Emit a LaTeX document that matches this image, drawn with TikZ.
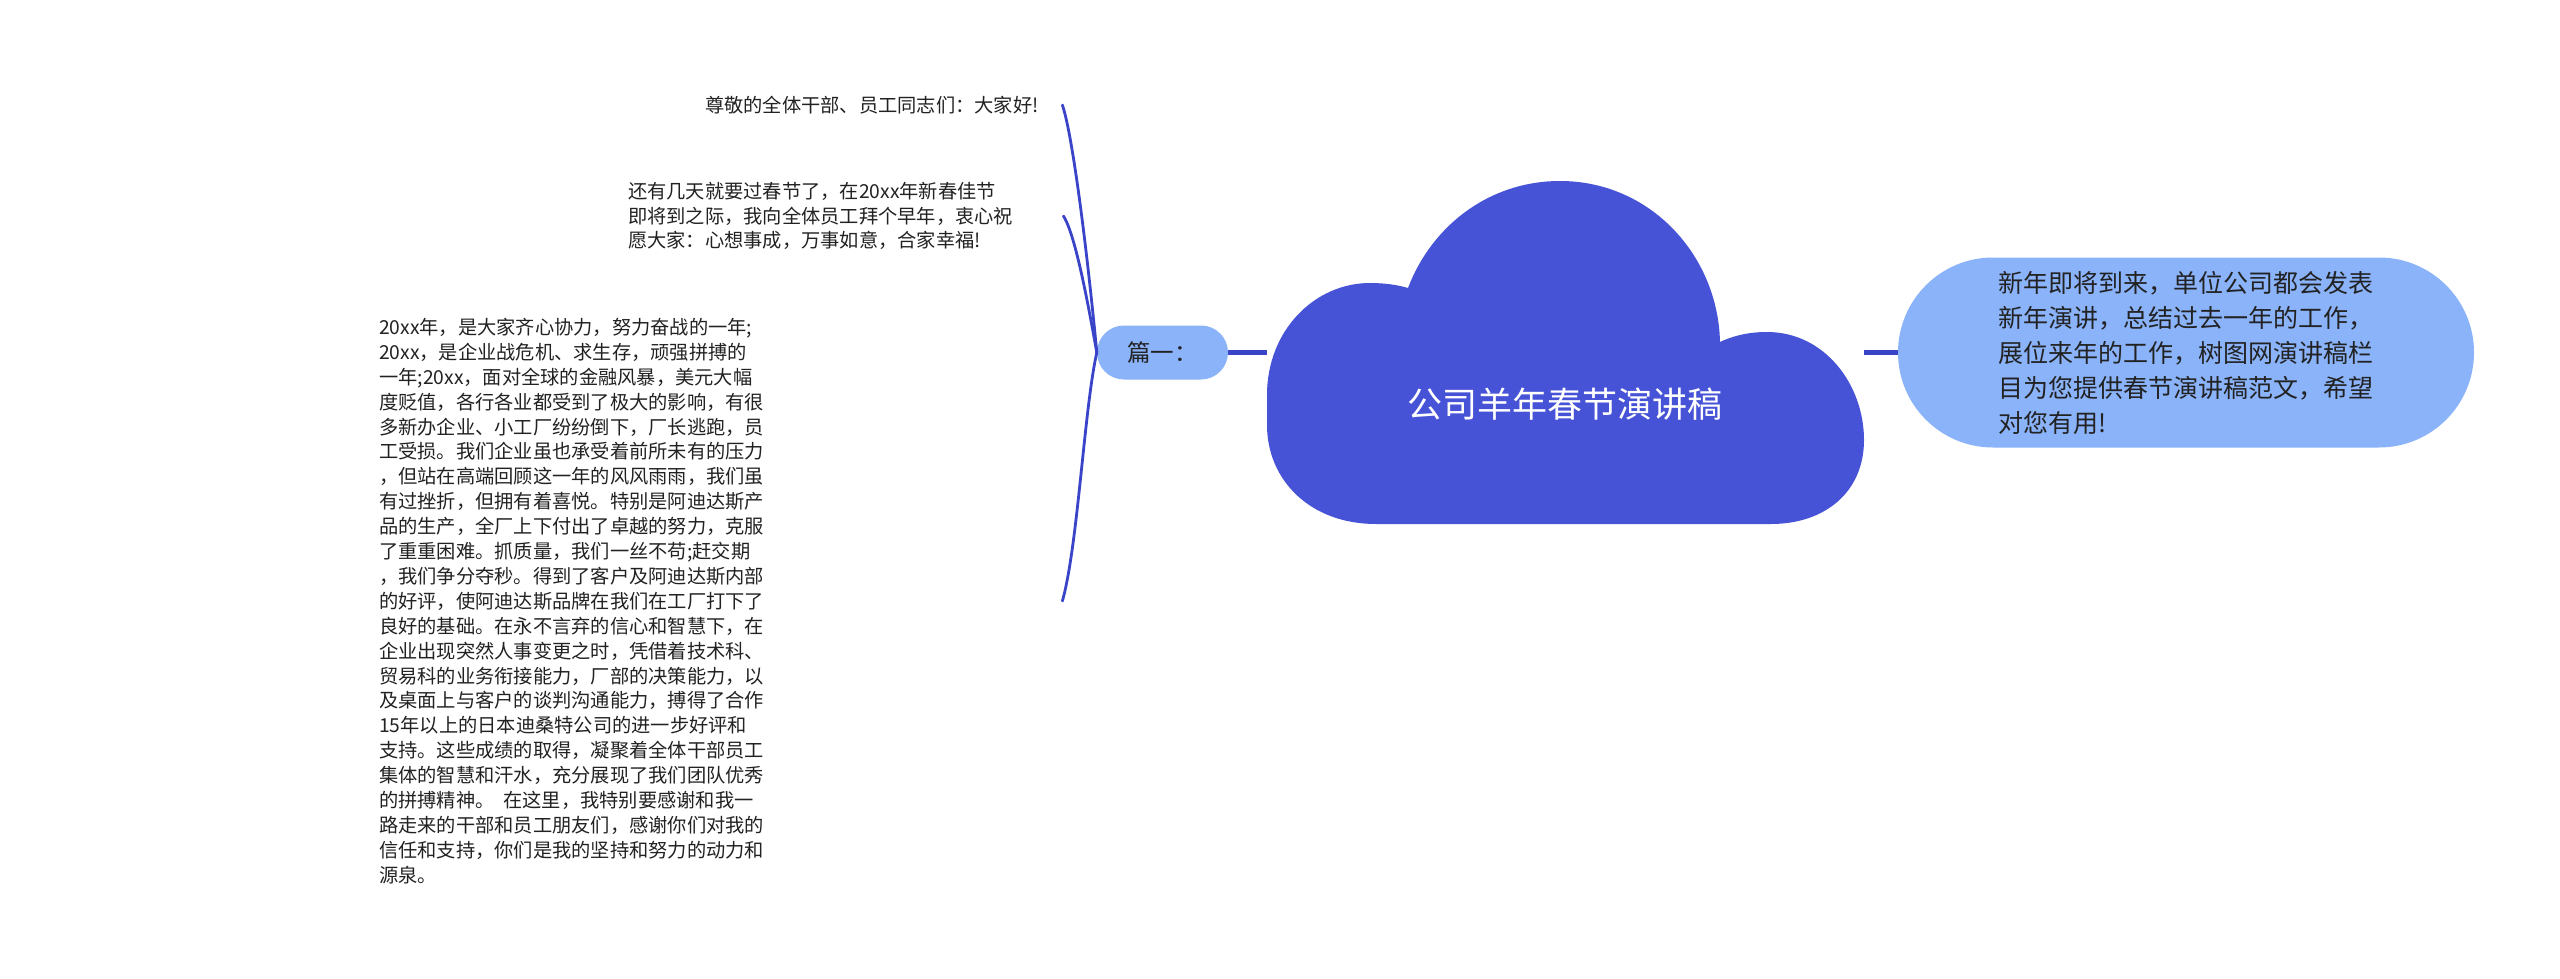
\documentclass[tikz,border=0pt]{standalone}
\usepackage{fontspec}
\setmainfont{Noto Sans CJK SC}
\definecolor{cloudc}{HTML}{4753D6}
\definecolor{boxc}{HTML}{8AB3FA}
\definecolor{linec}{HTML}{3A44C9}
\definecolor{txt}{HTML}{222222}
\begin{document}
\begin{tikzpicture}[x=1pt,y=-1pt,
  small/.style={font=\fontsize{19.25}{24.9}\selectfont, inner sep=0pt, text=txt, align=left, anchor=west},
  pill/.style={fill=boxc, text=txt},
  curve/.style={draw=linec, line width=2.8pt, line cap=round},
  bar/.style={draw=linec, line width=5pt}]
\useasboundingbox (0,0) rectangle (2560,979);
\fill[white] (0,0) rectangle (2560,979);

% nodes
\node[minimum width=597pt, minimum height=343pt, inner sep=0pt] (root) at (1565.5,352.5) {};
\node[pill, minimum width=131pt, minimum height=54pt, rounded corners=27pt, inner sep=0pt,
      font=\fontsize{23.5}{28}\selectfont] (p) at (1162.5,352.5) {篇一：};
\node[pill, rounded corners=95pt, minimum height=190pt, text width=376pt, inner xsep=100pt,
      inner ysep=0pt, font=\fontsize{25}{35}\selectfont, align=left] (r) at (2186,352.5)
  {新年即将到来，单位公司都会发表\\新年演讲，总结过去一年的工作，\\展位来年的工作，树图网演讲稿栏\\目为您提供春节演讲稿范文，希望\\对您有用!};
\node[small, text width=357pt] (t1) at (705,105) {尊敬的全体干部、员工同志们：大家好!};
\node[small, text width=435pt] (t2) at (628,216)
  {还有几天就要过春节了，在20xx年新春佳节\\即将到之际，我向全体员工拜个早年，衷心祝\\愿大家：心想事成，万事如意，合家幸福!};
\node[small, text width=683pt] (t3) at (379,601)
  {20xx年，是大家齐心协力，努力奋战的一年;\\
   20xx，是企业战危机、求生存，顽强拼搏的\\
   一年;20xx，面对全球的金融风暴，美元大幅\\
   度贬值，各行各业都受到了极大的影响，有很\\
   多新办企业、小工厂纷纷倒下，厂长逃跑，员\\
   工受损。我们企业虽也承受着前所未有的压力\\
   ，但站在高端回顾这一年的风风雨雨，我们虽\\
   有过挫折，但拥有着喜悦。特别是阿迪达斯产\\
   品的生产，全厂上下付出了卓越的努力，克服\\
   了重重困难。抓质量，我们一丝不苟;赶交期\\
   ，我们争分夺秒。得到了客户及阿迪达斯内部\\
   的好评，使阿迪达斯品牌在我们在工厂打下了\\
   良好的基础。在永不言弃的信心和智慧下，在\\
   企业出现突然人事变更之时，凭借着技术科、\\
   贸易科的业务衔接能力，厂部的决策能力，以\\
   及桌面上与客户的谈判沟通能力，搏得了合作\\
   15年以上的日本迪桑特公司的进一步好评和\\
   支持。这些成绩的取得，凝聚着全体干部员工\\
   集体的智慧和汗水，充分展现了我们团队优秀\\
   的拼搏精神。\hspace{0.45em}在这里，我特别要感谢和我一\\
   路走来的干部和员工朋友们，感谢你们对我的\\
   信任和支持，你们是我的坚持和努力的动力和\\
   源泉。};

% connectors
\draw[bar] (p.east) -- (root.west);
\draw[bar] (root.east) -- (r.west);
\draw[curve] (p.west) .. controls (1089,270) and (1074,140) .. (t1.east);
\draw[curve] (p.west) .. controls (1090,315) and (1076,235) .. (t2.east);
\draw[curve] (p.west) .. controls (1084,410) and (1078,545) .. (t3.east);

% cloud
\fill[cloudc] (1376,524) .. controls (1310,524) and (1267,480) .. (1267,425)
  -- (1267,395) .. controls (1267,330) and (1315,283) .. (1370,283)
  .. controls (1385,283) and (1398,285) .. (1408,288)
  .. controls (1432,225) and (1490,181) .. (1560,181)
  .. controls (1650,181) and (1718,255) .. (1720,342)
  .. controls (1735,335) and (1750,332) .. (1767,332)
  .. controls (1825,332) and (1864,385) .. (1864,440)
  .. controls (1864,492) and (1825,524) .. (1771,524) -- cycle;
\node[text=white, font=\fontsize{35}{40}\selectfont] (title) at (1565,404) {公司羊年春节演讲稿};
\end{tikzpicture}
\end{document}
